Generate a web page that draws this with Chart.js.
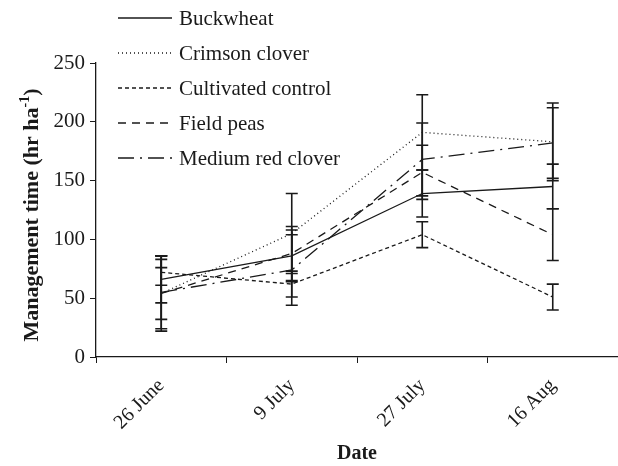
<!DOCTYPE html>
<html>
<head>
<meta charset="utf-8">
<script src="https://cdn.jsdelivr.net/npm/chart.js@4"></script>
<style>
  html, body { margin: 0; padding: 0; background: #fff; }
  #wrap { width: 618px; height: 466px; }
</style>
</head>
<body>
<div id="wrap"><canvas id="chart" width="618" height="466"></canvas></div>
<script>
const dates = ["26 June", "9 July", "27 July", "16 Aug"];

const buckwheat = [66, 86, 139, 145];
const crimsonClover = [54, 105, 191, 183];
const cultivatedControl = [72, 62, 104, 51];
const fieldPeas = [54, 88, 157, 104];
const mediumRedClover = [55, 74, 168, 182];

// erreurs (± autour de la moyenne)
const buckwheatErr = [20, 22, 20, 19];
const crimsonCloverErr = [32, 34, 32, 33];
const cultivatedControlErr = [11, 11, 11, 11];
const fieldPeasErr = [22, 23, 23, 22];
const mediumRedCloverErr = [31, 30, 31, 30];

const yTicks = [0, 50, 100, 150, 200, 250];

const serif = "'Liberation Serif', 'Times New Roman', serif";
const ink = "#1a1a1a";

function serie(label, data, err, dash) {
  return {
    label: label,
    data: data,
    errors: err,
    borderColor: ink,
    borderWidth: 1.3,
    borderDash: dash,
    pointRadius: 0,
    fill: false,
    tension: 0,
  };
}

// barres d'erreur
const errorBars = {
  id: "errorBars",
  afterDatasetsDraw(chart) {
    const ctx = chart.ctx;
    const y = chart.scales.y;
    ctx.save();
    ctx.strokeStyle = ink;
    ctx.lineWidth = 1.6;
    ctx.setLineDash([]);
    chart.data.datasets.forEach((ds, i) => {
      const meta = chart.getDatasetMeta(i);
      meta.data.forEach((pt, j) => {
        const hi = y.getPixelForValue(ds.data[j] + ds.errors[j]);
        const lo = y.getPixelForValue(ds.data[j] - ds.errors[j]);
        ctx.beginPath();
        ctx.moveTo(pt.x, hi);
        ctx.lineTo(pt.x, lo);
        ctx.moveTo(pt.x - 6, hi);
        ctx.lineTo(pt.x + 6, hi);
        ctx.moveTo(pt.x - 6, lo);
        ctx.lineTo(pt.x + 6, lo);
        ctx.stroke();
      });
    });
    ctx.restore();
  },
};

// légende et titre de l'axe y
const legendAndTitle = {
  id: "legendAndTitle",
  afterDraw(chart) {
    const ctx = chart.ctx;
    ctx.save();
    ctx.font = "21px " + serif;
    ctx.fillStyle = ink;
    ctx.textBaseline = "middle";
    chart.data.datasets.forEach((ds, i) => {
      const cy = 18 + i * 35;
      ctx.strokeStyle = ink;
      ctx.lineWidth = 1.3;
      ctx.setLineDash(ds.borderDash || []);
      ctx.beginPath();
      ctx.moveTo(118, cy);
      ctx.lineTo(172, cy);
      ctx.stroke();
      ctx.setLineDash([]);
      ctx.fillText(ds.label, 179, cy + 1);
    });

    // titre vertical avec exposant
    const a = "Management time (hr ha";
    const sup = "-1";
    const b = ")";
    ctx.font = "bold 22px " + serif;
    const wa = ctx.measureText(a).width;
    const wb = ctx.measureText(b).width;
    ctx.font = "bold 14px " + serif;
    const ws = ctx.measureText(sup).width;
    const total = wa + ws + wb;
    ctx.translate(32, 215);
    ctx.rotate(-Math.PI / 2);
    ctx.textBaseline = "middle";
    ctx.textAlign = "left";
    let x = -total / 2;
    ctx.font = "bold 22px " + serif;
    ctx.fillText(a, x, 0);
    x += wa;
    ctx.font = "bold 14px " + serif;
    ctx.fillText(sup, x, -7);
    x += ws;
    ctx.font = "bold 22px " + serif;
    ctx.fillText(b, x, 0);
    ctx.restore();
  },
};

new Chart(document.getElementById("chart").getContext("2d"), {
  type: "line",
  data: {
    labels: dates,
    datasets: [
      serie("Buckwheat", buckwheat, buckwheatErr, []),
      serie("Crimson clover", crimsonClover, crimsonCloverErr, [1, 3]),
      serie("Cultivated control", cultivatedControl, cultivatedControlErr, [4, 3]),
      serie("Field peas", fieldPeas, fieldPeasErr, [8, 6]),
      serie("Medium red clover", mediumRedClover, mediumRedCloverErr, [16, 6, 2, 6]),
    ],
  },
  options: {
    responsive: false,
    animation: false,
    layout: { padding: { top: 63, right: 0, left: 0, bottom: 0 } },
    plugins: {
      legend: { display: false },
      tooltip: { enabled: false },
    },
    scales: {
      x: {
        offset: true,
        grid: {
          offset: true,
          drawOnChartArea: false,
          drawTicks: true,
          tickLength: 6,
          color: ink,
        },
        border: { color: ink, width: 1.3 },
        ticks: {
          color: ink,
          font: { family: serif, size: 20 },
          minRotation: 45,
          maxRotation: 45,
          padding: 11,
        },
        title: {
          display: true,
          text: "Date",
          color: ink,
          font: { family: serif, size: 20, weight: "bold" },
          padding: { top: 0, bottom: 0 },
        },
        afterFit(scale) {
          scale.height = 109;
        },
      },
      y: {
        min: 0,
        max: 250,
        afterBuildTicks(scale) {
          scale.ticks = yTicks.map((v) => ({ value: v }));
        },
        grid: {
          drawOnChartArea: false,
          drawTicks: true,
          tickLength: 6,
          color: ink,
        },
        border: { color: ink, width: 1.3 },
        ticks: {
          color: ink,
          font: { family: serif, size: 21 },
          padding: 5,
        },
        afterFit(scale) {
          scale.width = 96;
        },
      },
    },
  },
  plugins: [errorBars, legendAndTitle],
});
</script>
</body>
</html>
